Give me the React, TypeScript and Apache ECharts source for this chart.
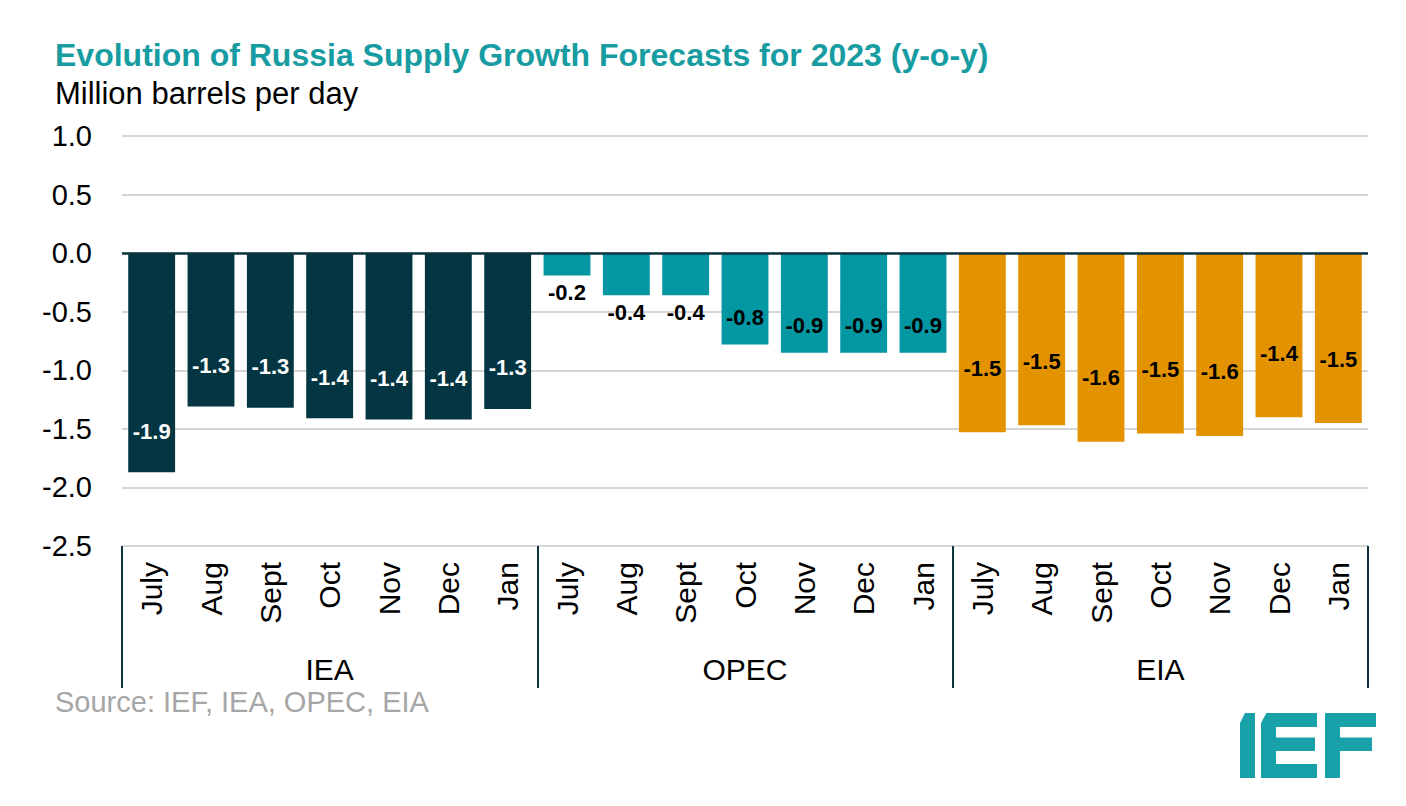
import React, { useEffect, useRef } from "react";
import * as echarts from "echarts";

const months = ["July", "Aug", "Sept", "Oct", "Nov", "Dec", "Jan"];
const groups = ["IEA", "OPEC", "EIA"];
const ieaValues = [-1.87, -1.31, -1.32, -1.41, -1.42, -1.42, -1.33];
const opecValues = [-0.19, -0.36, -0.36, -0.78, -0.85, -0.85, -0.85];
const eiaValues = [-1.53, -1.47, -1.61, -1.54, -1.56, -1.4, -1.45];
const yMin = -2.5;
const yMax = 1.0;
const yStep = 0.5;

const FONT = '"Liberation Sans", Arial, sans-serif';
const DARK = "#033642";
const TEAL = "#0396a3";
const ORANGE = "#e39300";
const TITLE_TEAL = "#179ca2";
const LOGO_TEAL = "#18a1a8";

const fmt = (v: number) => {
  const r = (Math.sign(v) * Math.round(Math.abs(v) * 10 + 1e-9)) / 10;
  return r.toFixed(1);
};

export default function App() {
  const ref = useRef<HTMLDivElement>(null);
  useEffect(() => {
    if (!ref.current) return;
    const chart = echarts.init(ref.current, undefined, { renderer: "svg" });
    const n = months.length;
    const cats = groups.flatMap(() => months);
    const pad = (arr: number[], g: number) =>
      cats.map((_, i) => (Math.floor(i / n) === g ? arr[i - g * n] : "-"));

    const baseLabel = {
      show: true,
      fontFamily: FONT,
      fontWeight: "bold" as const,
      fontSize: 22,
      formatter: (p: any) => fmt(p.value),
    };

    const opecData = pad(opecValues, 1).map((v) =>
      v === "-"
        ? v
        : Math.abs(v as number) < 0.5
        ? { value: v, label: { position: "bottom", distance: 6 } }
        : { value: v }
    );

    const option: any = {
      animation: false,
      grid: { left: 122, right: 38, top: 136, bottom: 260, containLabel: false },
      xAxis: [
        {
          type: "category",
          data: cats,
          position: "bottom",
          axisLine: { show: false, onZero: false },
          axisTick: {
            show: true,
            interval: (i: number) => i % n === 0,
            length: 142,
            lineStyle: { color: "#0c3540", width: 2 },
          },
          axisLabel: {
            interval: 0,
            rotate: 90,
            fontSize: 30,
            color: "#000",
            margin: 16,
            fontFamily: FONT,
          },
          splitLine: { show: false },
        },
        {
          type: "category",
          data: groups,
          position: "bottom",
          offset: 108,
          axisLine: { show: false, onZero: false },
          axisTick: { show: false },
          axisLabel: { fontSize: 30, color: "#000", margin: 0, fontFamily: FONT },
          splitLine: { show: false },
        },
      ],
      yAxis: {
        type: "value",
        min: yMin,
        max: yMax,
        interval: yStep,
        axisLine: { show: false },
        axisTick: { show: false },
        axisLabel: {
          fontSize: 29,
          color: "#000",
          margin: 30,
          fontFamily: FONT,
          formatter: (v: number) => v.toFixed(1),
        },
        splitLine: { lineStyle: { color: "#c9c9c9", width: 1.5 } },
      },
      series: [
        {
          name: "IEA",
          type: "bar",
          stack: "all",
          barCategoryGap: "21%",
          data: pad(ieaValues, 0),
          itemStyle: { color: DARK },
          label: { ...baseLabel, position: "insideBottom", distance: 30, color: "#fff" },
          markLine: {
            silent: true,
            symbol: ["none", "none"],
            label: { show: false },
            lineStyle: { color: "#0c3540", width: 2.5, type: "solid" },
            data: [{ yAxis: 0 }],
            z: 5,
          },
        },
        {
          name: "OPEC",
          type: "bar",
          stack: "all",
          barCategoryGap: "21%",
          data: opecData,
          itemStyle: { color: TEAL },
          label: { ...baseLabel, position: "insideBottom", distance: 16, color: "#000" },
        },
        {
          name: "EIA",
          type: "bar",
          stack: "all",
          barCategoryGap: "21%",
          data: pad(eiaValues, 2),
          itemStyle: { color: ORANGE },
          label: { ...baseLabel, position: "insideBottom", distance: 53, color: "#000" },
        },
      ],
      graphic: [
        {
          type: "text",
          left: 55,
          top: 39,
          style: {
            text: "Evolution of Russia Supply Growth Forecasts for 2023 (y-o-y)",
            fill: TITLE_TEAL,
            font: `bold 32px ${FONT}`,
          },
        },
        {
          type: "text",
          left: 55,
          top: 78,
          style: {
            text: "Million barrels per day",
            fill: "#000",
            font: `31px ${FONT}`,
          },
        },
        {
          type: "text",
          left: 55,
          top: 687,
          style: {
            text: "Source: IEF, IEA, OPEC, EIA",
            fill: "#a6a6a6",
            font: `29px ${FONT}`,
          },
        },
        {
          type: "group",
          children: [
            {
              type: "polygon",
              shape: {
                points: [
                  [1240, 723],
                  [1245, 713],
                  [1255, 713],
                  [1255, 778],
                  [1240, 778],
                ],
              },
              style: { fill: LOGO_TEAL },
            },
            {
              type: "polygon",
              shape: {
                points: [
                  [1266.5, 713],
                  [1317, 713],
                  [1317, 727],
                  [1276, 727],
                  [1276, 737.5],
                  [1315, 737.5],
                  [1315, 751],
                  [1276, 751],
                  [1276, 764],
                  [1317, 764],
                  [1317, 778],
                  [1261, 778],
                  [1261, 723],
                ],
              },
              style: { fill: LOGO_TEAL },
            },
            {
              type: "polygon",
              shape: {
                points: [
                  [1325, 713],
                  [1376, 713],
                  [1376, 727],
                  [1340, 727],
                  [1340, 737.5],
                  [1372, 737.5],
                  [1372, 751],
                  [1340, 751],
                  [1340, 778],
                  [1325, 778],
                ],
              },
              style: { fill: LOGO_TEAL },
            },
          ],
        },
      ],
    };
    chart.setOption(option);
    return () => chart.dispose();
  }, []);
  return (
    <div
      ref={ref}
      style={{ position: "fixed", left: 0, top: 0, width: 1406, height: 806, background: "#fff" }}
    />
  );
}
